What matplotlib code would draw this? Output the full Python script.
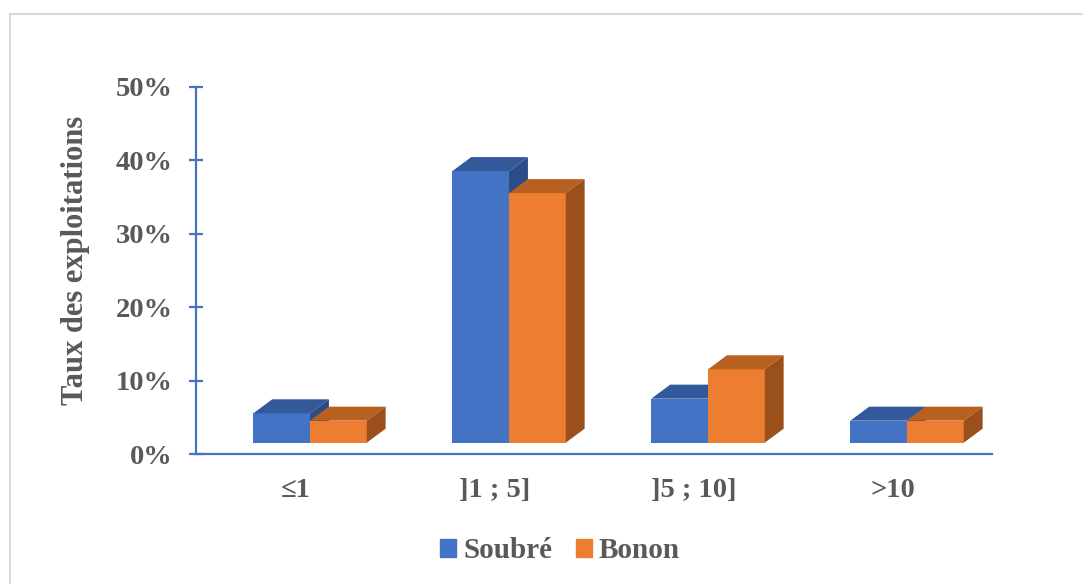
import matplotlib.pyplot as plt
from matplotlib.patches import Polygon, Patch, Rectangle
import numpy as np

plt.rcParams['font.family'] = ['Liberation Serif', 'DejaVu Serif']

categories = ['≤1', ']1 ; 5]', ']5 ; 10]', '>10']
soubre = [4, 37, 6, 3]
bonon = [3, 34, 10, 3]
series_names = ['Soubré', 'Bonon']

# front, top, side shades for each series
colors = {
    'Soubré': ('#4472C4', '#33599A', '#2B4C86'),
    'Bonon': ('#ED7D31', '#B8601F', '#9B501C'),
}
text_col = '#595959'
axis_col = '#4472C4'

# pseudo 3d geometry in data units
w = 0.285      # width of one column
dx0 = 0.073    # columns sit a bit behind the front plane
dy0 = 1.54
ddx = 0.095    # depth of a column
ddy = 1.91

fig = plt.figure(figsize=(10.83, 5.84), dpi=100)
ax = fig.add_axes([196 / 1083, 130 / 584, 796 / 1083, 367 / 584])
ax.set_xlim(0, 4)
ax.set_ylim(0, 50)


def draw_column(xl, h, cols):
    xr = xl + w
    front, top, side = cols
    ax.bar(xl, h, width=w, bottom=dy0, align='edge', color=front,
           linewidth=0, zorder=3, clip_on=False)
    yt = dy0 + h
    ax.add_patch(Polygon([(xl, yt), (xr, yt), (xr + ddx, yt + ddy), (xl + ddx, yt + ddy)],
                         closed=True, color=top, lw=0, zorder=3, clip_on=False))
    ax.add_patch(Polygon([(xr, dy0), (xr + ddx, dy0 + ddy), (xr + ddx, yt + ddy), (xr, yt)],
                         closed=True, color=side, lw=0, zorder=3, clip_on=False))


x = np.arange(len(categories)) + 0.5
for i in range(len(categories)):
    draw_column(x[i] + dx0 - w, soubre[i], colors['Soubré'])
    draw_column(x[i] + dx0, bonon[i], colors['Bonon'])

for s in ['top', 'right']:
    ax.spines[s].set_visible(False)
for s in ['left', 'bottom']:
    ax.spines[s].set_color(axis_col)
    ax.spines[s].set_linewidth(1.6)

ax.set_yticks(np.arange(0, 51, 10))
ax.set_yticklabels([f'{v}%' for v in range(0, 51, 10)])
ax.set_xticks(x)
ax.set_xticklabels(categories)
ax.tick_params(axis='y', direction='inout', length=10, width=1.6, color=axis_col,
               labelsize=20.5, labelcolor=text_col, pad=12)
ax.tick_params(axis='x', length=0, labelsize=20.5, labelcolor=text_col, pad=17)
for lab in ax.get_xticklabels() + ax.get_yticklabels():
    lab.set_fontweight('bold')

fig.text(76 / 1083, 1 - 260 / 584, 'Taux des exploitations', rotation=90,
         ha='center', va='center', fontsize=22, fontweight='bold', color=text_col)

handles = [Patch(color=colors[n][0]) for n in series_names]
leg = fig.legend(handles, series_names, loc='center', ncol=2,
                 bbox_to_anchor=(560 / 1083, 1 - 551 / 584), frameon=False,
                 handlelength=0.55, handleheight=0.55, handletextpad=0.25,
                 columnspacing=0.8, prop={'size': 21, 'weight': 'bold'})
for t in leg.get_texts():
    t.set_color(text_col)

# light chart-area border
fig.patches.append(Rectangle((10 / 1083, -0.2), 1.2, 1.2 - 14 / 584,
                             transform=fig.transFigure, fill=False,
                             edgecolor='#D9D9D9', linewidth=1.5))

fig.savefig('out.png', dpi=100)
